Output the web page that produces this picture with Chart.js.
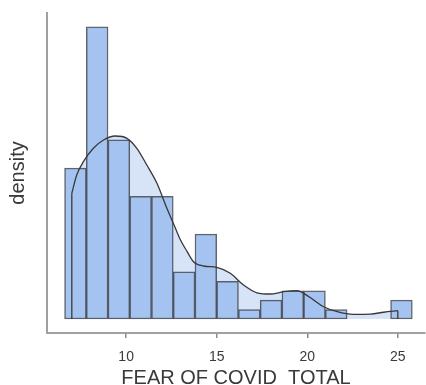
<!DOCTYPE html>
<html>
<head>
<meta charset="utf-8">
<script src="https://cdn.jsdelivr.net/npm/chart.js@4.4.0/dist/chart.umd.min.js"></script>
<style>
  html, body { margin: 0; padding: 0; background: #ffffff; }
  #wrap { width: 426px; height: 385px; }
</style>
</head>
<body>
<div id="wrap"><canvas id="c" width="426" height="385"></canvas></div>
<script>
// Histogram bins (centres) and counts
const binCenters = [7.2, 8.4, 9.6, 10.8, 12.0, 13.2, 14.4, 15.6, 16.8, 18.0, 19.2, 20.4, 21.6, 22.8, 24.0, 25.2];
const binCounts  = [16, 31, 19, 13, 13, 5, 9, 4, 1, 2, 3, 3, 1, 0, 0, 2];
const binWidth = 1.2;

// Density curve
const kdeX = [7.0, 7.27, 7.64, 8.19, 8.75, 9.39, 10.04, 10.59, 11.14, 11.7, 12.25, 12.8, 13.0, 13.36, 13.72, 14.27, 15.0, 15.75, 16.48, 17.22, 17.96, 18.7, 19.44, 19.8, 20.35, 20.9, 21.65, 22.56, 23.49, 24.22, 25.0];
const kdeY = [0.0911, 0.1043, 0.114, 0.1237, 0.1297, 0.1326, 0.1309, 0.1237, 0.1116, 0.0983, 0.0802, 0.0633, 0.0572, 0.049, 0.0415, 0.0384, 0.0374, 0.0331, 0.0246, 0.019, 0.0181, 0.0198, 0.0205, 0.0186, 0.0138, 0.0089, 0.0053, 0.0034, 0.0036, 0.0049, 0.006];

const xTicks = [10, 15, 20, 25];
const xTitle = 'FEAR OF COVID  TOTAL';
const yTitle = 'density';

const total = binCounts.reduce((a, b) => a + b, 0);
const barData = binCenters.map((c, i) => ({ x: c, y: binCounts[i] > 0 ? binCounts[i] / (total * binWidth) : null }));
const kdeData = kdeX.map((x, i) => ({ x: x, y: kdeY[i] }));
const leftEdge = [{ x: kdeX[0], y: 0 }, { x: kdeX[0], y: kdeY[0] }];
const rightEdge = [{ x: kdeX[kdeX.length - 1], y: 0 }, { x: kdeX[kdeX.length - 1], y: kdeY[kdeY.length - 1] }];

const FONT = "'Liberation Sans', Arial, sans-serif";

new Chart(document.getElementById('c'), {
  type: 'bar',
  data: {
    datasets: [
      {
        type: 'line', data: kdeData, order: 3,
        fill: 'origin', backgroundColor: '#d7e4f7',
        borderWidth: 0, pointRadius: 0, cubicInterpolationMode: 'monotone'
      },
      {
        type: 'bar', data: barData, order: 2,
        backgroundColor: '#a5c3f1', borderColor: 'rgba(45,50,60,0.75)', borderWidth: 1.5,
        barPercentage: 1.0, categoryPercentage: 1.0, borderSkipped: false
      },
      {
        type: 'line', data: kdeData, order: 1,
        fill: false, borderColor: '#383838', borderWidth: 1.3,
        pointRadius: 0, cubicInterpolationMode: 'monotone'
      },
      {
        type: 'line', data: leftEdge, order: 1,
        fill: false, borderColor: '#383838', borderWidth: 1.3, pointRadius: 0
      },
      {
        type: 'line', data: rightEdge, order: 1,
        fill: false, borderColor: '#383838', borderWidth: 1.3, pointRadius: 0
      }
    ]
  },
  options: {
    responsive: false,
    animation: false,
    layout: { padding: { top: 13, right: 1, left: 0, bottom: 0 } },
    plugins: { legend: { display: false }, tooltip: { enabled: false } },
    scales: {
      x: {
        type: 'linear',
        min: 5.63, max: 26.5,
        offset: false,
        afterFit: s => { s.height = 52; },
        afterBuildTicks: s => { s.ticks = xTicks.map(v => ({ value: v })); },
        grid: { display: true, drawOnChartArea: false, drawTicks: true, tickLength: 5, color: '#8a8a8a', lineWidth: 1.5, offset: false },
        border: { display: true, color: '#a0a0a0', width: 2 },
        ticks: { color: '#3a3a3a', font: { family: FONT, size: 14 }, padding: 11, maxRotation: 0 },
        title: { display: true, text: xTitle, color: '#3a3a3a', font: { family: FONT, size: 20, lineHeight: 0.7 }, padding: 0 }
      },
      y: {
        type: 'linear',
        min: -0.01014, max: 0.2217,
        afterFit: s => { s.width = 47; },
        grid: { display: false },
        border: { display: true, color: '#a0a0a0', width: 2 },
        ticks: { display: false },
        title: { display: true, text: yTitle, color: '#3a3a3a', font: { family: FONT, size: 20, lineHeight: 1.2 }, padding: { top: 6.5, bottom: 0 } }
      }
    }
  }
});
</script>
</body>
</html>
